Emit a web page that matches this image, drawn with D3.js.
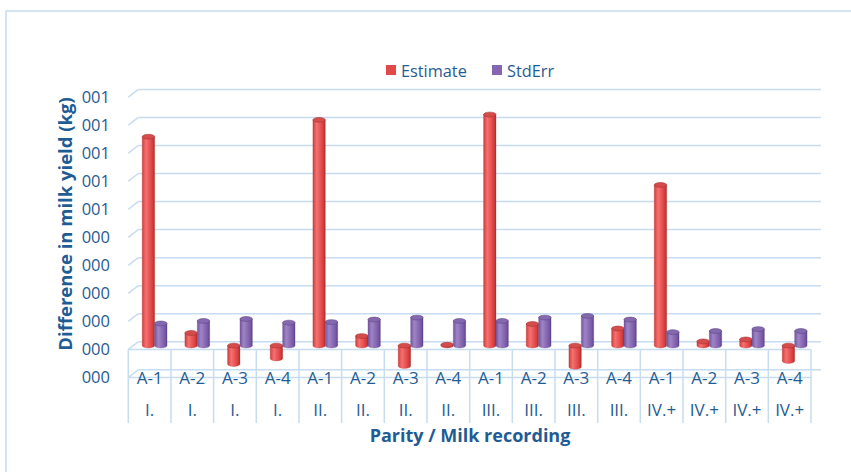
<!DOCTYPE html>
<html><head><meta charset="utf-8">
<script src="https://cdn.jsdelivr.net/npm/d3@7/dist/d3.min.js"></script>
<style>html,body{margin:0;padding:0;background:#fff;}svg{display:block;}</style>
</head><body><svg id="c" width="851" height="472"></svg>
<script>
const recordings = ["A-1","A-2","A-3","A-4","A-1","A-2","A-3","A-4","A-1","A-2","A-3","A-4","A-1","A-2","A-3","A-4"];
const parities   = ["I.","I.","I.","I.","II.","II.","II.","II.","III.","III.","III.","III.","IV.+","IV.+","IV.+","IV.+"];
const estimate = [0.745, 0.045, -0.066, -0.046, 0.805, 0.034, -0.073, 0.003, 0.824, 0.077, -0.076, 0.061, 0.573, 0.015, 0.022, -0.055];
const stdErr   = [0.079, 0.088, 0.095, 0.082, 0.084, 0.093, 0.100, 0.088, 0.088, 0.100, 0.106, 0.093, 0.048, 0.052, 0.059, 0.052];
const tickValues = [-0.1, 0, 0.1, 0.2, 0.3, 0.4, 0.5, 0.6, 0.7, 0.8, 0.9];
const tickLabels = ["000","000","000","000","000","000","001","001","001","001","001"];
const seriesNames = ["Estimate","StdErr"];

const svg = d3.select("#c");
const txt = "#1F5C94", grid = "#C6DCF0";
const font = "'Open Sans', sans-serif";

// outer border
svg.append("rect").attr("x",6).attr("y",11).attr("width",860).attr("height",480)
  .attr("fill","none").attr("stroke","#C9DFF2").attr("stroke-width",1.6);

const dX = 10, dY = -7.7;             // depth offset front -> back
const x = d3.scaleBand().domain(d3.range(recordings.length)).range([128.3, 811]);
const yMid = d3.scaleLinear().domain([0, 0.9]).range([345.6, 345.6 - 0.9*280.4]);
const yFront = v => yMid(v) - dY/2;
const yBack  = v => yMid(v) + dY/2;
const x0 = x.range()[0], x1 = x.range()[1];

// gradients
const defs = svg.append("defs");
function grad(id, stops){
  const g = defs.append("linearGradient").attr("id",id).attr("x1","0%").attr("x2","100%").attr("y1","0%").attr("y2","0%");
  stops.forEach(s=>g.append("stop").attr("offset",s[0]).attr("stop-color",s[1]));
}
grad("gRed", [["0%","#D83A3A"],["30%","#F27272"],["55%","#EC5858"],["85%","#D63C3C"],["100%","#A82A2A"]]);
grad("gPur", [["0%","#7357A0"],["30%","#9F84C6"],["55%","#8D70B8"],["85%","#7659A4"],["100%","#5B4284"]]);
const topCol = ["#D44C4C","#8469AE"], edgeCol = ["#A83434","#5E4788"];
const fills = ["url(#gRed)","url(#gPur)"];

// back wall gridlines and side-wall diagonals
const g = svg.append("g").attr("stroke",grid).attr("stroke-width",1.5).attr("fill","none");
tickValues.forEach(v=>{
  g.append("line").attr("x1",x0+dX).attr("x2",x1+dX).attr("y1",yBack(v)).attr("y2",yBack(v));
  g.append("line").attr("x1",x0).attr("x2",x0+dX).attr("y1",yFront(v)).attr("y2",yBack(v));
});
// floor front edge and the lower front edge
g.append("line").attr("x1",x0).attr("x2",x1).attr("y1",yFront(0)).attr("y2",yFront(0));
g.append("line").attr("x1",x0).attr("x2",x1).attr("y1",yFront(-0.1)).attr("y2",yFront(-0.1));

// bars as cylinders
const hw = 6.2, ry = 2.4;
const barsG = svg.append("g");
[estimate, stdErr].forEach((vals, s)=>{
  vals.forEach((v,i)=>{
    const cx = x(i) + x.bandwidth()/2 + dX/2 + (s===0 ? -hw : hw);
    const yT = yMid(Math.max(v,0)), yB = yMid(Math.min(v,0));
    barsG.append("path")
      .attr("d",`M${cx-hw},${yT} L${cx-hw},${yB} A${hw},${ry} 0 0 0 ${cx+hw},${yB} L${cx+hw},${yT} Z`)
      .attr("fill",fills[s]).attr("stroke",edgeCol[s]).attr("stroke-width",0.5).attr("stroke-opacity",0.6);
    barsG.append("ellipse").attr("cx",cx).attr("cy",yT).attr("rx",hw).attr("ry",ry)
      .attr("fill",topCol[s]).attr("stroke",edgeCol[s]).attr("stroke-width",0.6);
  });
});

// category box verticals
const cg = svg.append("g").attr("stroke",grid).attr("stroke-width",1.5);
d3.range(recordings.length+1).forEach(i=>{
  const xx = i<recordings.length ? x(i) : x1;
  cg.append("line").attr("x1",xx).attr("x2",xx).attr("y1",yFront(0)).attr("y2",423);
});

// category labels
svg.append("g").selectAll("text").data(recordings).join("text")
  .attr("x",(d,i)=>x(i)+x.bandwidth()/2).attr("y",383.5)
  .attr("text-anchor","middle").attr("font-family",font).attr("font-size",17).attr("fill",txt).text(d=>d);
svg.append("g").selectAll("text").data(parities).join("text")
  .attr("x",(d,i)=>x(i)+x.bandwidth()/2).attr("y",416)
  .attr("text-anchor","middle").attr("font-family",font).attr("font-size",17).attr("fill",txt).text(d=>d);

// y tick labels
svg.append("g").selectAll("text").data(tickValues).join("text")
  .attr("x",110).attr("y",v=>yFront(v)+6)
  .attr("text-anchor","end").attr("font-family",font).attr("font-size",16.5).attr("fill",txt)
  .text((v,i)=>tickLabels[i]);

// axis titles
svg.append("text").attr("transform","translate(72,224) rotate(-90)")
  .attr("text-anchor","middle").attr("font-family",font).attr("font-weight","bold")
  .attr("font-size",18.5).attr("fill",txt).text("Difference in milk yield (kg)");
svg.append("text").attr("x",470).attr("y",442)
  .attr("text-anchor","middle").attr("font-family",font).attr("font-weight","bold")
  .attr("font-size",18).attr("fill",txt).text("Parity / Milk recording");

// legend
const leg = [{x:386, tx:401},{x:492, tx:507}];
seriesNames.forEach((n,s)=>{
  svg.append("rect").attr("x",leg[s].x).attr("y",65).attr("width",10).attr("height",10)
    .attr("fill",s===0?"#E24A4A":"#8566B0");
  svg.append("text").attr("x",leg[s].tx).attr("y",76.5).attr("font-family",font).attr("font-size",16.3)
    .attr("fill",txt).text(n);
});
</script></body></html>
